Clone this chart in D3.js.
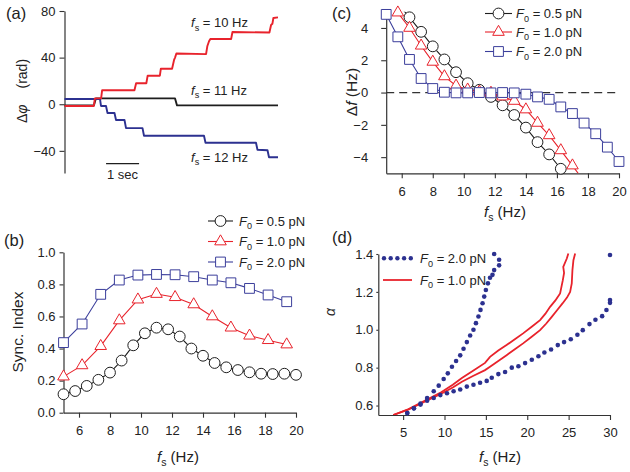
<!DOCTYPE html>
<html><head><meta charset="utf-8">
<script src="https://cdn.jsdelivr.net/npm/d3@7"></script>
<style>
body{margin:0;background:#fff;}
svg{display:block;}
</style></head><body>
<svg id="chart" width="630" height="472"></svg>
<script>
// ---------------- DATA ----------------
// Panel (a): phase-difference traces (time in s, value in rad)
const traceRedT   = [0,0.89,0.92,1.11,1.14,2.12,2.17,2.48,2.52,2.89,2.92,3.26,3.32,3.35,3.39,4.29,4.33,4.38,4.42,5.05,5.09,6.21,6.26,6.30,6.33,6.47];
const traceRedV   = [-1.5,-1.5,5,5,12,12,18,18,24.5,24.5,30.5,30.5,38,40,43.5,43,50,54,56,56,62,61.5,68,69,74,74.5];
const traceBlackT = [0,0.89,0.95,3.35,3.41,6.47];
const traceBlackV = [-1,-1,5,5,-1,-1];
const traceBlueT  = [0,1.076,1.106,1.258,1.303,1.515,1.561,1.818,1.864,2.364,2.409,4.227,4.273,5.803,5.848,6.152,6.197,6.47];
const traceBlueV  = [4.5,4.5,-1.5,-1.5,-7.5,-7.5,-13.5,-13.5,-20.5,-20.5,-27,-27,-33,-33,-39,-39.5,-45.5,-45.5];
const traceLabels = ["10 Hz","11 Hz","12 Hz"];
const aTicks = [-40,0,40,80];

// Panel (b): synchronization index vs fs
const bX05 = [5,5.75,6.5,7.25,8,8.75,9.5,10.25,11,11.75,12.5,13.25,14,14.75,15.5,16.25,17,17.75,18.5,19.25,20];
const bY05 = [0.115,0.135,0.167,0.205,0.25,0.325,0.42,0.495,0.53,0.52,0.475,0.40,0.355,0.31,0.283,0.266,0.252,0.243,0.241,0.243,0.236];
const bX10 = [5,6.2,7.4,8.6,9.8,11,12.2,13.4,14.6,15.8,17,18.2,19.4];
const bY10 = [0.225,0.295,0.415,0.575,0.705,0.74,0.72,0.675,0.6,0.53,0.48,0.452,0.425];
const bX20 = [5,6.2,7.4,8.6,9.8,11,12.2,13.4,14.6,15.8,17,18.2,19.4];
const bY20 = [0.437,0.553,0.738,0.827,0.858,0.862,0.86,0.848,0.827,0.81,0.775,0.734,0.692];
const bXTicks = [6,8,10,12,14,16,18,20];
const bYTicks = [0,0.2,0.4,0.6,0.8,1.0];

// Panel (c): frequency shift vs fs
const cX05 = [5.75,6.5,7.25,8,8.75,9.5,10.25,11,11.75,12.5,13.25,14,14.75,15.5,16.25,17];
const cY05 = [5.5,4.66,3.76,2.86,2.05,1.26,0.58,0.17,-0.27,-0.79,-1.39,-2.17,-3.07,-3.83,-4.72,-5.6];
const cX10 = [5,5.75,6.5,7.25,8,8.75,9.5,10.25,11,11.75,12.5,13.25,14,14.75,15.5,16.25,17,17.75];
const cY10 = [6.0,4.95,4.0,2.9,1.9,1.0,0.42,0.18,0.05,-0.02,-0.25,-0.52,-1.05,-1.88,-2.65,-3.58,-4.52,-5.5];
const cX20 = [5,5.75,6.5,7.25,8,8.75,9.5,10.25,11,11.75,12.5,13.25,14,14.75,15.5,16.25,17,17.75,18.5,19.25,20];
const cY20 = [4.84,3.45,2.05,0.87,0.25,0.02,-0.02,-0.02,0,-0.02,0,-0.02,-0.1,-0.27,-0.42,-0.89,-1.3,-1.89,-2.55,-3.38,-4.27];
const cXTicks = [6,8,10,12,14,16,18,20];
const cYTicks = [-4,-2,0,2,4];

// Panel (d): Arnold tongue boundaries (alpha vs fs)
const dBlueAX = [5.5,6.3,7.1,7.9,8.7,9.3,9.9,10.4,10.9,11.4,11.9,12.3,12.7,13.1,13.5,13.8,14.1,14.35,14.6,14.8,15.0,15.25,15.5,15.8,16.0,16.6,16.6,16.0];
const dBlueAY = [0.56,0.585,0.61,0.64,0.675,0.705,0.74,0.77,0.805,0.835,0.865,0.9,0.935,0.97,1.0,1.035,1.07,1.105,1.14,1.175,1.21,1.245,1.275,1.29,1.315,1.34,1.37,1.40];
const dBlueBX = [5.5,6.3,7.1,7.9,8.7,9.5,10.3,11.1,11.9,12.7,13.5,14.3,15.1,15.71,16.51,17.32,18.13,18.93,19.74,20.55,21.35,22.07,22.88,23.69,24.45,25.26,26.06,26.71,27.52,28.24,29.05,29.57,30.0,30.0,30.0];
const dBlueBY = [0.56,0.585,0.605,0.625,0.64,0.655,0.665,0.675,0.685,0.7,0.71,0.72,0.73,0.747,0.766,0.777,0.8,0.807,0.824,0.842,0.86,0.88,0.896,0.919,0.935,0.95,0.974,0.998,1.03,1.053,1.072,1.104,1.142,1.157,1.395];
const dRedAX = [3.8,5.6,7.6,9.6,11,12.1,13.5,14.9,15.5,16.5,17.5,18.5,19.5,20.5,21.55,22.2,22.76,23.4,23.97,24.3,24.45,24.35,24.78,24.97];
const dRedAY = [0.55,0.58,0.625,0.67,0.71,0.745,0.785,0.825,0.857,0.89,0.919,0.95,0.981,1.015,1.051,1.085,1.121,1.155,1.192,1.262,1.30,1.332,1.376,1.403];
const dRedBX = [3.8,5.6,7.6,9.6,11,12.1,13.5,14.9,15.5,16.5,17.5,18.5,19.5,20.5,21.55,22.3,22.96,23.6,24.26,24.8,25.18,25.38,25.46,25.58,25.79];
const dRedBY = [0.55,0.578,0.62,0.662,0.695,0.726,0.757,0.787,0.805,0.835,0.866,0.897,0.928,0.962,0.998,1.033,1.068,1.103,1.139,1.17,1.2,1.245,1.315,1.367,1.403];
const dXTicks = [5,10,15,20,25,30];
const dYTicks = [0.6,0.8,1.0,1.2,1.4];

const legendForces = ["0.5 pN","1.0 pN","2.0 pN"];

// ---------------- STYLE ----------------
const FONT = '"Liberation Sans", Arial, Helvetica, sans-serif';
const RED = '#e8232c', BLUE = '#3b3e9b', BLACK = '#1e1e1e', NAVY = '#2c3190', AXIS = '#333', TXT = '#222';

const svg = d3.select('#chart');
const defs = svg.append('defs');

function styleAxis(g, fs) {
  g.attr('font-family', null).attr('font-size', null);
  g.select('.domain').attr('stroke', AXIS).attr('stroke-width', 1.2);
  g.selectAll('.tick line').attr('stroke', AXIS).attr('stroke-width', 1.1);
  g.selectAll('.tick text').attr('fill', TXT).attr('font-size', fs || 13).attr('font-family', FONT);
}

// rich text: parts = [{t, i (italic), sub}]
function richText(parent, x, y, parts, opt) {
  opt = opt || {};
  const size = opt.size || 13;
  const sd = opt.subdy || size * 0.28;
  const t = parent.append('text').attr('x', x).attr('y', y)
    .attr('font-family', FONT).attr('font-size', size).attr('fill', TXT)
    .attr('text-anchor', opt.anchor || 'start').style('white-space', 'pre');
  if (opt.transform) t.attr('transform', opt.transform);
  let inSub = false;
  parts.forEach(p => {
    const s = t.append('tspan').text(p.t);
    if (p.i) s.attr('font-style', 'italic');
    if (p.dx) s.attr('dx', p.dx);
    if (p.sub) { s.attr('font-size', size * 0.7).attr('dy', sd); inSub = true; }
    else if (inSub) { s.attr('dy', -sd); inSub = false; }
  });
  return t;
}

function addClip(id, x, y, w, h) {
  defs.append('clipPath').attr('id', id).append('rect').attr('x', x).attr('y', y).attr('width', w).attr('height', h);
}

function markerPath(shape) {
  if (shape === 'circle') return d3.symbol().type(d3.symbolCircle).size(Math.PI * 5.4 * 5.4)();
  if (shape === 'triangle') return d3.symbol().type(d3.symbolTriangle).size(58)();
  return d3.symbol().type(d3.symbolSquare).size(96)();
}

function drawSeries(g, xs, ys, xS, yS, color, shape, clipId) {
  const pts = xs.map((x, i) => [x, ys[i]]);
  const line = d3.line().x(d => xS(d[0])).y(d => yS(d[1]));
  const lg = g.append('g');
  if (clipId) lg.attr('clip-path', `url(#${clipId})`);
  lg.append('path').attr('d', line(pts)).attr('fill', 'none').attr('stroke', color).attr('stroke-width', 1.1);
  const [x0, x1] = xS.domain(), [y0, y1] = yS.domain();
  const vis = pts.filter(d => d[0] >= Math.min(x0, x1) && d[0] <= Math.max(x0, x1) && d[1] >= Math.min(y0, y1) - 0.05 && d[1] <= Math.max(y0, y1) + 0.05);
  g.append('g').selectAll('path').data(vis).join('path')
    .attr('transform', d => `translate(${xS(d[0])},${yS(d[1])})`)
    .attr('d', markerPath(shape)).attr('fill', '#fff').attr('stroke', color).attr('stroke-width', 1);
}

function drawLegend(g, x0, x1, xText, rows, items) {
  items.forEach((it, i) => {
    const y = rows[i];
    g.append('line').attr('x1', x0).attr('x2', x1).attr('y1', y).attr('y2', y).attr('stroke', it.color).attr('stroke-width', 1.1);
    g.append('path').attr('transform', `translate(${(x0 + x1) / 2},${y})`).attr('d', markerPath(it.shape))
      .attr('fill', '#fff').attr('stroke', it.color).attr('stroke-width', 1);
    richText(g, xText, y + 4.6, [{t: 'F', i: true}, {t: '0', sub: true}, {t: ' = ' + it.label}], {size: 13});
  });
}

function fsLabel(g, cx, y) {
  richText(g, cx, y, [{t: 'f', i: true}, {t: 's', sub: true}, {t: ' (Hz)'}], {size: 15, anchor: 'middle'});
}

// ---------------- PANEL (a) ----------------
{
  const g = svg.append('g');
  const x = d3.scaleLinear().domain([0, 6.47]).range([64.5, 278]);
  const y = d3.scaleLinear().domain([-59, 80]).range([173, 11]);
  const ax = g.append('g').attr('transform', 'translate(64.5,0)')
    .call(d3.axisLeft(y).tickValues(aTicks).tickSize(5).tickPadding(4).tickSizeOuter(0));
  styleAxis(ax, 13);
  const line = d3.line().x(d => x(d[0])).y(d => y(d[1]));
  const series = [
    [traceBlackT, traceBlackV, BLACK],
    [traceBlueT, traceBlueV, NAVY],
    [traceRedT, traceRedV, RED]
  ];
  series.forEach(([ts, vs, c]) => {
    g.append('path').attr('d', line(ts.map((t, i) => [t, vs[i]])))
      .attr('fill', 'none').attr('stroke', c).attr('stroke-width', 1.9).attr('stroke-linejoin', 'round');
  });
  // scale bar 1 sec
  g.append('line').attr('x1', x(1.26)).attr('x2', x(2.26)).attr('y1', 163.7).attr('y2', 163.7).attr('stroke', BLACK).attr('stroke-width', 1.3);
  g.append('text').attr('x', (x(1.26) + x(2.26)) / 2).attr('y', 178.5).attr('text-anchor', 'middle')
    .attr('font-family', FONT).attr('font-size', 13).attr('fill', TXT).text('1 sec');
  const labY = [27, 94.5, 161.5];
  traceLabels.forEach((l, i) => {
    richText(g, 191, labY[i], [{t: 'f', i: true}, {t: 's', sub: true}, {t: ' = ' + l}], {size: 13});
  });
  richText(g, 0, 0, [{t: 'Δ'}, {t: 'φ', i: true}, {t: '(rad)', dx: 16}], {size: 14, transform: 'translate(26.5,123) rotate(-90)'});
  g.append('text').attr('x', 6).attr('y', 19).attr('font-family', FONT).attr('font-size', 16.5).attr('fill', TXT).text('(a)');
}

// ---------------- PANEL (b) ----------------
{
  const g = svg.append('g');
  const x = d3.scaleLinear().domain([5, 20]).range([63.5, 296]);
  const y = d3.scaleLinear().domain([0, 1]).range([412.7, 252.3]);
  const ax = g.append('g').attr('transform', 'translate(0,412.7)')
    .call(d3.axisBottom(x).tickValues(bXTicks).tickSize(5).tickPadding(8).tickSizeOuter(0));
  styleAxis(ax, 13);
  const ay = g.append('g').attr('transform', 'translate(63.5,0)')
    .call(d3.axisLeft(y).tickValues(bYTicks).tickFormat(d3.format('.1f')).tickSize(4).tickPadding(4).tickSizeOuter(0));
  styleAxis(ay, 13);
  drawSeries(g, bX05, bY05, x, y, BLACK, 'circle');
  drawSeries(g, bX10, bY10, x, y, RED, 'triangle');
  drawSeries(g, bX20, bY20, x, y, BLUE, 'square');
  drawLegend(g, 208, 233, 239, [221, 241.5, 262], [
    {color: BLACK, shape: 'circle', label: legendForces[0]},
    {color: RED, shape: 'triangle', label: legendForces[1]},
    {color: BLUE, shape: 'square', label: legendForces[2]}
  ]);
  fsLabel(g, 178, 461.5);
  g.append('text').attr('transform', 'translate(23,332) rotate(-90)').attr('text-anchor', 'middle')
    .attr('font-family', FONT).attr('font-size', 15.5).attr('fill', TXT).text('Sync. Index');
  g.append('text').attr('x', 4).attr('y', 246).attr('font-family', FONT).attr('font-size', 16.5).attr('fill', TXT).text('(b)');
}

// ---------------- PANEL (c) ----------------
{
  const g = svg.append('g');
  const x = d3.scaleLinear().domain([5, 20]).range([386.2, 619]);
  const y = d3.scaleLinear().domain([-5, 5]).range([173.3, 11.8]);
  addClip('clipC', 386.2, 11.8, 240, 161.5);
  const ax = g.append('g').attr('transform', 'translate(0,173.3)')
    .call(d3.axisBottom(x).tickValues(cXTicks).tickSize(5).tickPadding(8).tickSizeOuter(0));
  styleAxis(ax, 13);
  const ay = g.append('g').attr('transform', 'translate(386.2,0)')
    .call(d3.axisLeft(y).tickValues(cYTicks).tickSize(5).tickPadding(13).tickSizeOuter(0));
  styleAxis(ay, 13);
  g.append('line').attr('x1', x(5)).attr('x2', x(20)).attr('y1', y(0)).attr('y2', y(0))
    .attr('stroke', AXIS).attr('stroke-width', 1.2).attr('stroke-dasharray', '8,5');
  drawSeries(g, cX05, cY05, x, y, BLACK, 'circle', 'clipC');
  drawSeries(g, cX10, cY10, x, y, RED, 'triangle', 'clipC');
  drawSeries(g, cX20, cY20, x, y, BLUE, 'square', 'clipC');
  drawLegend(g, 485, 512, 516, [13.5, 32, 51.5], [
    {color: BLACK, shape: 'circle', label: legendForces[0]},
    {color: RED, shape: 'triangle', label: legendForces[1]},
    {color: BLUE, shape: 'square', label: legendForces[2]}
  ]);
  fsLabel(g, 505, 217);
  richText(g, 0, 0, [{t: 'Δ'}, {t: 'f', i: true}, {t: ' (Hz)'}], {size: 15.5, anchor: 'middle', transform: 'translate(357,92) rotate(-90)'});
  g.append('text').attr('x', 332).attr('y', 19).attr('font-family', FONT).attr('font-size', 16.5).attr('fill', TXT).text('(c)');
}

// ---------------- PANEL (d) ----------------
{
  const g = svg.append('g');
  const x = d3.scaleLinear().domain([2, 30]).range([378.3, 610]);
  const y = d3.scaleLinear().domain([0.55, 1.4]).range([415, 254]);
  addClip('clipD', 378.3, 248, 245, 167);
  const ax = g.append('g').attr('transform', 'translate(0,415)')
    .call(d3.axisBottom(x).tickValues(dXTicks).tickSize(5).tickPadding(8).tickSizeOuter(0));
  styleAxis(ax, 13);
  const ay = g.append('g').attr('transform', 'translate(378.3,0)')
    .call(d3.axisLeft(y).tickValues(dYTicks).tickFormat(d3.format('.1f')).tickSize(2).tickPadding(3).tickSizeOuter(0));
  styleAxis(ay, 13);
  const line = d3.line().x(d => x(d[0])).y(d => y(d[1]));
  [[dRedAX, dRedAY], [dRedBX, dRedBY]].forEach(([xs, ys]) => {
    g.append('path').attr('clip-path', 'url(#clipD)').attr('d', line(xs.map((v, i) => [v, ys[i]])))
      .attr('fill', 'none').attr('stroke', RED).attr('stroke-width', 1.8);
  });
  [[dBlueAX, dBlueAY], [dBlueBX, dBlueBY]].forEach(([xs, ys]) => {
    g.append('g').selectAll('circle').data(xs.map((v, i) => [v, ys[i]]).filter(d => d[1] >= 0.55)).join('circle')
      .attr('cx', d => x(d[0])).attr('cy', d => y(d[1])).attr('r', 2.3).attr('fill', NAVY);
  });
  // legend
  g.append('g').selectAll('circle').data(d3.range(5)).join('circle')
    .attr('cx', i => 384 + i * 6.7).attr('cy', 258.3).attr('r', 2.2).attr('fill', NAVY);
  g.append('line').attr('x1', 383).attr('x2', 412).attr('y1', 280).attr('y2', 280).attr('stroke', RED).attr('stroke-width', 1.8);
  richText(g, 420, 263, [{t: 'F', i: true}, {t: '0', sub: true}, {t: ' = 2.0 pN'}], {size: 13});
  richText(g, 420, 284.6, [{t: 'F', i: true}, {t: '0', sub: true}, {t: ' = 1.0 pN'}], {size: 13});
  fsLabel(g, 500, 461.5);
  g.append('text').attr('transform', 'translate(335,312) rotate(-90)').attr('text-anchor', 'middle')
    .attr('font-family', FONT).attr('font-size', 14).attr('font-style', 'italic').attr('fill', TXT).text('α');
  g.append('text').attr('x', 332).attr('y', 243).attr('font-family', FONT).attr('font-size', 16.5).attr('fill', TXT).text('(d)');
}
</script>
</body></html>
